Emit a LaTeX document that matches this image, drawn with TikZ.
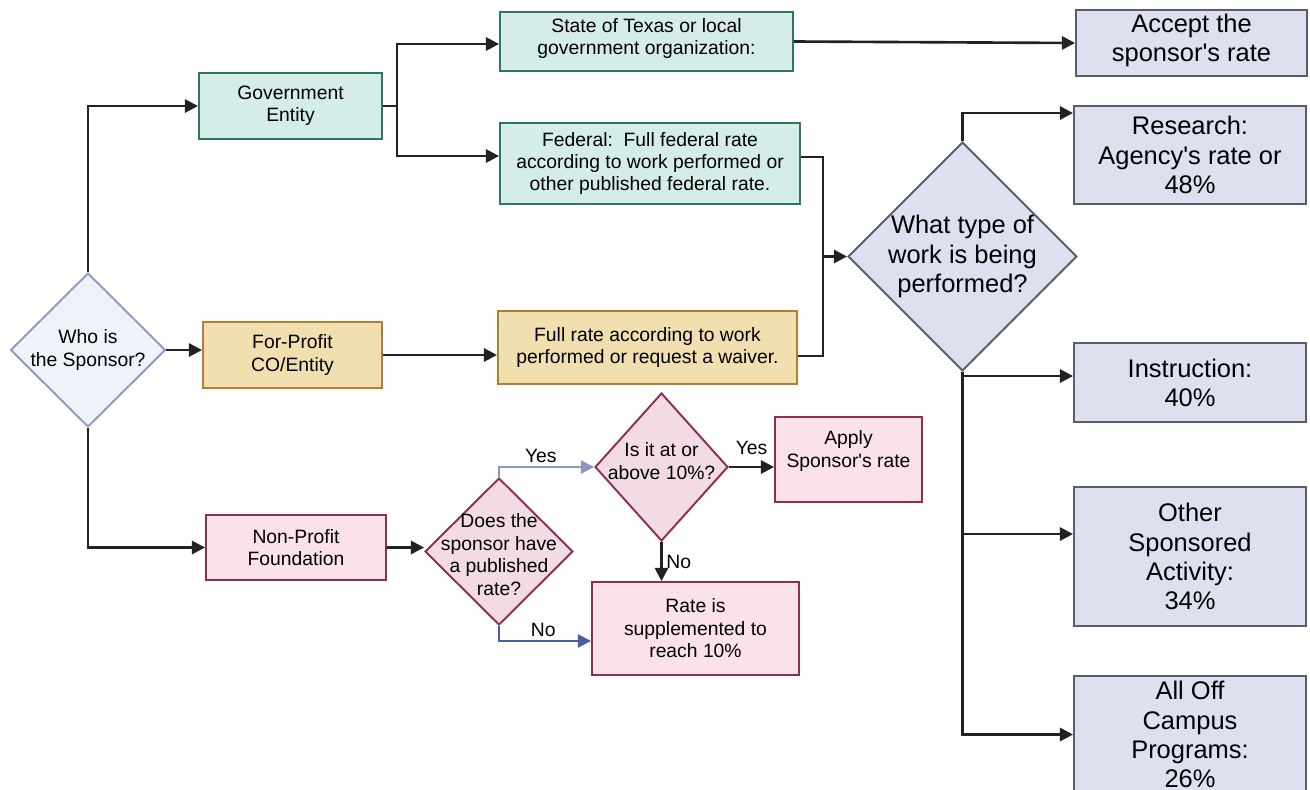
\documentclass[tikz,border=0pt]{standalone}
\usepackage{fontspec}
\setmainfont{Liberation Sans}
\usepackage{tikz}
\usetikzlibrary{
    shapes.geometric,
    arrows.meta,
    calc
}
\definecolor{whofill}{HTML}{EEF3FA}
\definecolor{wholine}{HTML}{8A9CC4}
\definecolor{govfill}{HTML}{D5EDE8}
\definecolor{govline}{HTML}{2F7565}
\definecolor{profill}{HTML}{F2DFB0}
\definecolor{proline}{HTML}{B07E34}
\definecolor{npfill}{HTML}{FAE2E8}
\definecolor{npdiam}{HTML}{F2DBE4}
\definecolor{npline}{HTML}{8C2F4F}
\definecolor{ratefill}{HTML}{DDE0EF}
\definecolor{rateline}{HTML}{5A5C70}
\definecolor{yesline}{HTML}{8898C0}
\definecolor{noline}{HTML}{4A5EA0}
\definecolor{ink}{HTML}{222222}
\newcommand{\midtext}{\fontsize{11}{12.8}\selectfont}
\newcommand{\bigtext}{\fontsize{14.5}{16.6}\selectfont}
\newcommand{\apos}{\textquotesingle}

\begin{document}
\begin{tikzpicture}[x=0.02cm,y=-0.02cm,
    box/.style={draw, line width=1.1pt, align=center, inner sep=0pt, font=\midtext},
    govbox/.style={box, fill=govfill, draw=govline},
    probox/.style={box, fill=profill, draw=proline},
    npbox/.style={box, fill=npfill, draw=npline},
    ratebox/.style={box, fill=ratefill, draw=rateline, font=\bigtext},
    diam/.style={diamond, draw, line width=1.1pt, inner sep=0pt, aspect=1},
    txt/.style={align=center, inner sep=0pt, font=\midtext},
    line/.style={draw=ink, line width=1.5pt},
    arr/.style={line, -{Triangle[length=7.5pt,width=7.5pt]}},
    lbl/.style={font=\midtext, inner sep=2pt}
]
\useasboundingbox (0,0) rectangle (1310,789);

% sponsor question
\node[diam, fill=whofill, draw=wholine, minimum width=3.1cm, minimum height=3.08cm] (who) at (88,350) {};
\node[txt] (whotxt) at (who) {Who is\\the Sponsor?};

% government branch
\node[govbox, minimum width=3.66cm, minimum height=1.32cm] (gov) at (290.5,106) {Government\\Entity};
\node[govbox, minimum width=5.86cm, minimum height=1.18cm] (state) at (646.5,41.5) {};
\node[txt] (statetxt) at (646.5,38.5) {State of Texas or local\\government organization:};
\node[govbox, minimum width=6.0cm, minimum height=1.62cm] (fed) at (650,163.5) {Federal:\ \ Full federal rate\\according to work performed or\\other published federal rate.};

% for-profit branch
\node[probox, minimum width=3.58cm, minimum height=1.32cm] (forp) at (292.5,355) {For-Profit\\CO/Entity};
\node[probox, minimum width=5.98cm, minimum height=1.46cm] (fullr) at (647.5,347.5) {Full rate according to work\\performed or request a waiver.};

% non-profit branch
\node[npbox, minimum width=3.6cm, minimum height=1.3cm] (nonp) at (296,547.5) {Non-Profit\\Foundation};
\node[diam, fill=npdiam, draw=npline, minimum width=2.96cm, minimum height=2.94cm] (does) at (499,551.5) {};
\node[txt] (doestxt) at (499,554.5) {Does the\\sponsor have\\a published\\rate?};
\node[diam, fill=npdiam, draw=npline, minimum width=2.66cm, minimum height=2.96cm] (isit) at (661.5,467) {};
\node[txt] (isittxt) at (661.5,461) {Is it at or\\above 10\%?};
\node[npbox, minimum width=2.94cm, minimum height=1.7cm] (apply) at (848.5,459.5) {};
\node[txt] (applytxt) at (848.5,451) {Apply\\Sponsor\apos s rate};
\node[npbox, minimum width=4.14cm, minimum height=1.86cm] (supp) at (695.5,628.5) {Rate is\\supplemented to\\reach 10\%};

% type of work
\node[diam, fill=ratefill, draw=rateline, minimum width=4.58cm, minimum height=4.58cm] (what) at (962.5,256.5) {};
\node[txt, font=\bigtext] (whattxt) at (what) {What type of\\work is being\\performed?};

% rates
\node[ratebox, minimum width=4.62cm, minimum height=1.32cm] (accept) at (1191.5,43) {};
\node[txt, font=\bigtext] (accepttxt) at (1191.5,40) {Accept the\\sponsor\apos s rate};
\node[ratebox, minimum width=4.64cm, minimum height=1.96cm] (research) at (1190,155) {Research:\\Agency\apos s rate or\\48\%};
\node[ratebox, minimum width=4.64cm, minimum height=1.58cm] (instr) at (1190,382.5) {Instruction:\\40\%};
\node[ratebox, minimum width=4.64cm, minimum height=2.78cm] (other) at (1190,556.5) {Other\\Sponsored\\Activity:\\34\%};
\node[ratebox, minimum width=4.64cm, minimum height=2.34cm] (alloff) at (1190,734.5) {All Off\\Campus\\Programs:\\26\%};

% connectors
\coordinate (gsplit) at (397,106);
\coordinate (wjoin) at (823,256.5);
\draw[arr] (who.north) |- (gov.west);
\draw[arr] (who.east) -- (who.east -| forp.west);
\draw[arr] (who.south) |- (nonp.west);
\draw[line] (gov.east) -- (gsplit);
\draw[arr] (gsplit) |- ([yshift=-0.05cm]state.west);
\draw[arr] (gsplit) |- ([yshift=0.15cm]fed.west);
\draw[arr] (state.east) -- (accept.west);
\draw[line] ([yshift=0.13cm]fed.east) -| (wjoin);
\draw[line] ([yshift=-0.17cm]fullr.east) -| (wjoin);
\draw[arr] (wjoin) -- (what.west);
\draw[arr] (forp.east) -- (forp.east -| fullr.west);
\draw[arr] (nonp.east) -- (nonp.east -| does.west);
\draw[arr, draw=yesline, line width=1.1pt] (does.north) |- (isit.west) node[lbl, pos=0.72, above] {Yes};
\draw[arr, draw=noline, line width=1.1pt] (does.south) |- ([yshift=-0.25cm]supp.west) node[lbl, pos=0.74, above] {No};
\draw[arr] (isit.east) -- (isit.east -| apply.west) node[lbl, midway, above, yshift=4pt] {Yes};
\draw[arr] (isit.south) -- (isit.south |- supp.north) node[lbl, midway, right] {No};
\draw[arr] (what.north) |- ([yshift=0.84cm]research.west);
\draw[arr] (what.south) |- ([yshift=0.13cm]instr.west);
\draw[arr] (what.south) |- ([yshift=0.45cm]other.west);
\draw[arr] (what.south) |- (alloff.west);
\end{tikzpicture}
\end{document}
